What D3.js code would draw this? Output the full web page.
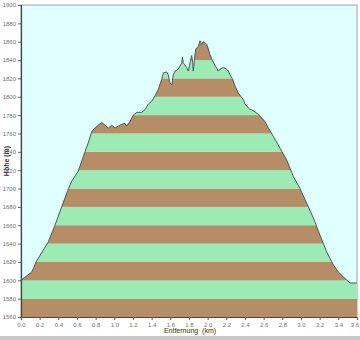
<!DOCTYPE html>
<html>
<head>
<meta charset="utf-8">
<script src="https://cdn.jsdelivr.net/npm/d3@7"></script>
<style>
  body { margin: 0; background: #fff; }
  svg { display: block; font-family: "Liberation Sans", Arial, sans-serif; }
</style>
</head>
<body>
<div id="wrapper"></div>
<script>
// distance (km) and elevation (m)
const distKm = [0.00, 0.115, 0.168, 0.239, 0.293, 0.364, 0.436, 0.49, 0.543, 0.614, 0.668, 0.721,
  0.758, 0.793, 0.828, 0.865, 0.90, 0.935, 0.972, 1.007, 1.043, 1.079, 1.114, 1.133, 1.168, 1.203,
  1.24, 1.293, 1.329, 1.364, 1.40, 1.436, 1.471, 1.508, 1.525, 1.561, 1.578, 1.596, 1.615, 1.632,
  1.65, 1.685, 1.722, 1.73, 1.739, 1.775, 1.793, 1.811, 1.829, 1.84, 1.846, 1.857, 1.872, 1.90,
  1.918, 1.936, 1.953, 1.971, 1.99, 2.007, 2.025, 2.043, 2.079, 2.114, 2.132, 2.168, 2.204, 2.221,
  2.239, 2.268, 2.293, 2.328, 2.382, 2.40, 2.454, 2.47, 2.543, 2.614, 2.65, 2.703, 2.775, 2.847,
  2.918, 2.989, 3.061, 3.132, 3.204, 3.275, 3.346, 3.40, 3.471, 3.525, 3.60];
const elevM = [1600, 1609, 1621, 1633, 1642, 1660, 1680, 1695, 1708, 1719, 1735, 1750,
  1762, 1766, 1769, 1772, 1769, 1766, 1769, 1766, 1768, 1770, 1771, 1768, 1773, 1780,
  1783, 1783, 1786, 1792, 1795, 1801, 1808, 1819, 1826, 1827, 1824, 1815, 1813, 1824,
  1828, 1830, 1837, 1843, 1837, 1832, 1828, 1837, 1845, 1837, 1828, 1839, 1852, 1855,
  1861, 1857, 1860, 1859, 1857, 1852, 1846, 1841, 1834, 1828, 1830, 1832, 1830, 1828,
  1824, 1819, 1812, 1804, 1797, 1792, 1786, 1786, 1781, 1773, 1766, 1757, 1744, 1731,
  1713, 1700, 1684, 1668, 1649, 1631, 1617, 1609, 1602, 1597, 1597];

const yTicks = d3.range(1560, 1901, 20);
const xTicks = d3.range(0, 19).map((i) => i * 0.2);

const dimensions = {
  width: 360,
  height: 340,
  margin: { top: 5, right: 3, bottom: 23, left: 21 },
};
dimensions.boundedWidth = dimensions.width - dimensions.margin.left - dimensions.margin.right;
dimensions.boundedHeight = dimensions.height - dimensions.margin.top - dimensions.margin.bottom;

const profile = distKm.map((d, i) => ({ km: d, h: elevM[i] }));

const svg = d3.select("#wrapper")
  .append("svg")
  .attr("width", dimensions.width)
  .attr("height", dimensions.height);

const bounds = svg.append("g")
  .attr("transform", `translate(${dimensions.margin.left},${dimensions.margin.top})`);

const xScale = d3.scaleLinear()
  .domain([0, 3.6])
  .range([0, dimensions.boundedWidth]);

const yScale = d3.scaleLinear()
  .domain([1560, 1900])
  .range([dimensions.boundedHeight, 0]);

// plot background
bounds.append("rect")
  .attr("width", dimensions.boundedWidth)
  .attr("height", dimensions.boundedHeight)
  .attr("fill", "#e0ffff")
  .attr("stroke", "#a0a0a0")
  .attr("stroke-width", 1);

const areaGen = d3.area()
  .x((d) => xScale(d.km))
  .y0(yScale(1560))
  .y1((d) => yScale(d.h));

bounds.append("clipPath")
  .attr("id", "profileClip")
  .append("path")
  .attr("d", areaGen(profile));

// striped bands, one per 20 m
bounds.append("g")
  .attr("clip-path", "url(#profileClip)")
  .selectAll("rect")
  .data(yTicks.slice(0, -1))
  .join("rect")
  .attr("x", 0)
  .attr("width", dimensions.boundedWidth)
  .attr("y", (d) => yScale(d + 20))
  .attr("height", (d) => yScale(d) - yScale(d + 20))
  .attr("fill", (d, i) => (i % 2 === 0 ? "#b58d66" : "#9ceab4"));

const lineGen = d3.line()
  .x((d) => xScale(d.km))
  .y((d) => yScale(d.h));

bounds.append("path")
  .attr("d", lineGen(profile))
  .attr("fill", "none")
  .attr("stroke", "#4a5a52")
  .attr("stroke-width", 1);

// axes
const yAxis = bounds.append("g")
  .call(d3.axisLeft(yScale).tickValues(yTicks).tickFormat(d3.format("d")).tickSize(3).tickPadding(2));
const xAxis = bounds.append("g")
  .attr("transform", `translate(0,${dimensions.boundedHeight})`)
  .call(d3.axisBottom(xScale).tickValues(xTicks).tickFormat(d3.format(".1f")).tickSize(3).tickPadding(3));

[yAxis, xAxis].forEach((ax) => {
  ax.select(".domain").attr("stroke", "#404848").attr("stroke-width", 1.2);
  ax.selectAll(".tick line").attr("stroke", "#606060");
  ax.selectAll(".tick text")
    .attr("fill", "#707070")
    .style("font-size", "6px")
    .style("font-family", "'Liberation Sans', Arial, sans-serif");
});

// keep the last distance label inside the page
xAxis.selectAll(".tick text")
  .filter((d) => d >= 3.59)
  .attr("dx", -2.5);

// axis titles
svg.append("text")
  .attr("transform", `translate(9,${dimensions.margin.top + dimensions.boundedHeight / 2}) rotate(-90)`)
  .attr("text-anchor", "middle")
  .style("font-size", "7px")
  .style("font-weight", "bold")
  .attr("fill", "#303030")
  .text("Höhe (m)");

svg.append("text")
  .attr("x", 190)
  .attr("y", 333)
  .attr("text-anchor", "middle")
  .style("font-size", "7px")
  .attr("fill", "#303030")
  .attr("xml:space", "preserve")
  .text("Entfernung  (km)");

// bottom frame strip
svg.append("rect")
  .attr("x", 0)
  .attr("y", 336)
  .attr("width", dimensions.width)
  .attr("height", 4)
  .attr("fill", "#c8c8c8");
</script>
</body>
</html>
